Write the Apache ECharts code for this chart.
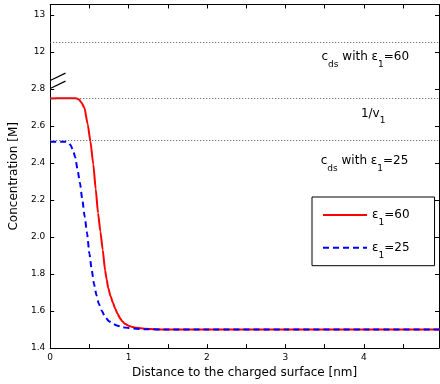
<!DOCTYPE html>
<html><head><meta charset="utf-8">
<script src="https://cdn.jsdelivr.net/npm/echarts@6/dist/echarts.min.js"></script>
<style>html,body{margin:0;padding:0;background:#fff}#c{width:440px;height:384px}</style>
</head><body><div id="c"></div>
<script>
// ---- data ----
const xAxisName = 'Distance to the charged surface [nm]';
const yAxisName = 'Concentration [M]';
const redName = 'ε1=60';
const blueName = 'ε1=25';
const redX = [0,0.1,0.2,0.3,0.34,0.37,0.40,0.436,0.479,0.512,0.55,0.58,0.61,0.64,0.67,0.70,0.72,0.74,0.77,0.80,0.83,0.86,0.89,0.92,0.95,1.0,1.05,1.1,1.2,1.35,1.5,2.0,3.0,4.0,5.0];
const redY = [2.748,2.749,2.750,2.750,2.748,2.742,2.725,2.698,2.608,2.518,2.392,2.26,2.13,2.03,1.93,1.82,1.77,1.725,1.68,1.645,1.612,1.585,1.562,1.545,1.532,1.521,1.514,1.510,1.505,1.502,1.500,1.5,1.5,1.5,1.5];
const blueX = [0,0.1,0.2,0.23,0.26,0.29,0.32,0.35,0.38,0.41,0.44,0.47,0.50,0.53,0.56,0.59,0.62,0.66,0.70,0.75,0.80,0.85,0.92,1.0,1.2,1.5,2.0,3.0,4.0,5.0];
const blueY = [2.515,2.515,2.515,2.511,2.497,2.47,2.43,2.36,2.29,2.20,2.11,2.02,1.91,1.82,1.745,1.685,1.64,1.60,1.568,1.545,1.532,1.522,1.513,1.508,1.502,1.5,1.5,1.5,1.5,1.5];
const refValues = [12.25, 2.75, 2.515];   // c_ds(eps=60), 1/v1, c_ds(eps=25)
const yLowerTicks = [1.4, 2.8];           // lower segment range
const yUpperTicks = [12, 13];             // upper segment labels

// ---- broken-axis transform: values >= 12 are compressed above 2.8 ----
const BREAK_BASE = 3.0, BREAK_SCALE = 0.2;
function t(v){ return v >= 10 ? BREAK_BASE + (v - yUpperTicks[0]) * BREAK_SCALE : v; }
function inv(v){ return v > 2.9 ? yUpperTicks[0] + (v - BREAK_BASE) / BREAK_SCALE : v; }

const FONT = 'DejaVu Sans';
const rich = {
  m: {fontFamily: FONT, fontSize: 12, lineHeight: 24, color: '#000'},
  s: {fontFamily: FONT, fontSize: 9, lineHeight: 9, verticalAlign: 'bottom', color: '#000'}
};
const pairs = (xs, ys) => xs.map((x, i) => [x, t(ys[i])]);

const X_MAX = 4.96, Y_MAX = 3.2557;
const axisCommon = {
  axisLine: {show: true, onZero: false, lineStyle: {color: '#000', width: 1}},
  axisTick: {show: true, inside: true, length: 4, lineStyle: {color: '#000'}},
  splitLine: {show: false}
};

const chart = echarts.init(document.getElementById('c'));
chart.setOption({
  animation: false,
  backgroundColor: '#fff',
  grid: {left: 47, right: 1, top: 4.5, bottom: 34.5, containLabel: false},
  xAxis: [
    Object.assign({
      type: 'value', min: 0, max: X_MAX, interval: 0.5, position: 'bottom',
      name: xAxisName, nameLocation: 'middle', nameGap: 16,
      nameTextStyle: {fontFamily: FONT, fontSize: 12, color: '#000'},
      axisLabel: {fontFamily: FONT, fontSize: 9, color: '#000', margin: 5, showMaxLabel: false,
        formatter: v => Math.abs(v - Math.round(v)) < 1e-6 ? String(Math.round(v)) : ''}
    }, axisCommon),
    Object.assign({
      type: 'value', min: 0, max: X_MAX, interval: 0.5, position: 'top',
      axisLabel: {show: false}
    }, axisCommon)
  ],
  yAxis: [
    Object.assign({
      type: 'value', min: yLowerTicks[0], max: Y_MAX, interval: 0.2, position: 'left',
      name: yAxisName, nameLocation: 'middle', nameGap: 22, nameRotate: 90,
      nameTextStyle: {fontFamily: FONT, fontSize: 12, color: '#000'},
      axisLabel: {fontFamily: FONT, fontSize: 9, color: '#000', margin: 5, showMaxLabel: false,
        formatter: v => {
          if (v > 2.9) { const r = inv(v); return Math.abs(r - Math.round(r)) < 1e-6 ? String(Math.round(r)) : ''; }
          return v.toFixed(1);
        }}
    }, axisCommon),
    Object.assign({
      type: 'value', min: yLowerTicks[0], max: Y_MAX, interval: 0.2, position: 'right',
      axisLabel: {show: false}
    }, axisCommon)
  ],
  legend: {
    data: [redName, blueName],
    orient: 'vertical', left: 312, top: 197,
    itemWidth: 44, itemHeight: 14, itemGap: 14.7,
    padding: [12, 25, 6, 10],
    borderColor: '#000', borderWidth: 1, borderRadius: 0, backgroundColor: '#fff',
    selectedMode: false,
    itemStyle: {opacity: 0, borderWidth: 0},
    textStyle: {fontFamily: FONT, fontSize: 12, color: '#000', rich: rich},
    formatter: n => '{m|ε}{s|1}{m|' + n.slice(2) + '}'
  },
  series: [
    {
      name: 'refs', type: 'line', data: [], silent: true,
      markLine: {
        silent: true, symbol: ['none', 'none'], label: {show: false},
        lineStyle: {color: '#555', width: 1, type: [1, 2]},
        emphasis: {disabled: true},
        data: refValues.map(v => ({yAxis: t(v)}))
      },
      markPoint: {
        silent: true, symbol: 'circle', symbolSize: 0,
        label: {show: true, position: 'inside', rich: rich, color: '#000'},
        data: [
          {coord: [4.02, 2.972], value: 0, label: {formatter: '{m|c}{s|ds}{m| with ε}{s|1}{m|=60}'}},
          {coord: [4.12, 2.667], value: 0, label: {formatter: '{m|1/v}{s|1}'}},
          {coord: [4.01, 2.412], value: 0, label: {formatter: '{m|c}{s|ds}{m| with ε}{s|1}{m|=25}'}}
        ]
      }
    },
    {
      name: redName, type: 'line', data: pairs(redX, redY),
      symbol: 'none', showSymbol: false, smooth: 0.2, smoothMonotone: 'x',
      lineStyle: {color: '#ff0000', width: 2}, itemStyle: {color: '#ff0000'},
      emphasis: {disabled: true}
    },
    {
      name: blueName, type: 'line', data: pairs(blueX, blueY),
      symbol: 'none', showSymbol: false, smooth: 0.2, smoothMonotone: 'x',
      lineStyle: {color: '#0000ff', width: 2, type: [6, 4]}, itemStyle: {color: '#0000ff'},
      emphasis: {disabled: true}
    },
    {
      name: 'break1', type: 'line', data: [[0, 2.802], [0.195, 2.842]], symbol: 'none', silent: true,
      lineStyle: {color: '#000', width: 1.2}, clip: false
    },
    {
      name: 'break2', type: 'line', data: [[0, 2.845], [0.195, 2.885]], symbol: 'none', silent: true,
      lineStyle: {color: '#000', width: 1.2}, clip: false
    }
  ]
});
</script></body></html>
